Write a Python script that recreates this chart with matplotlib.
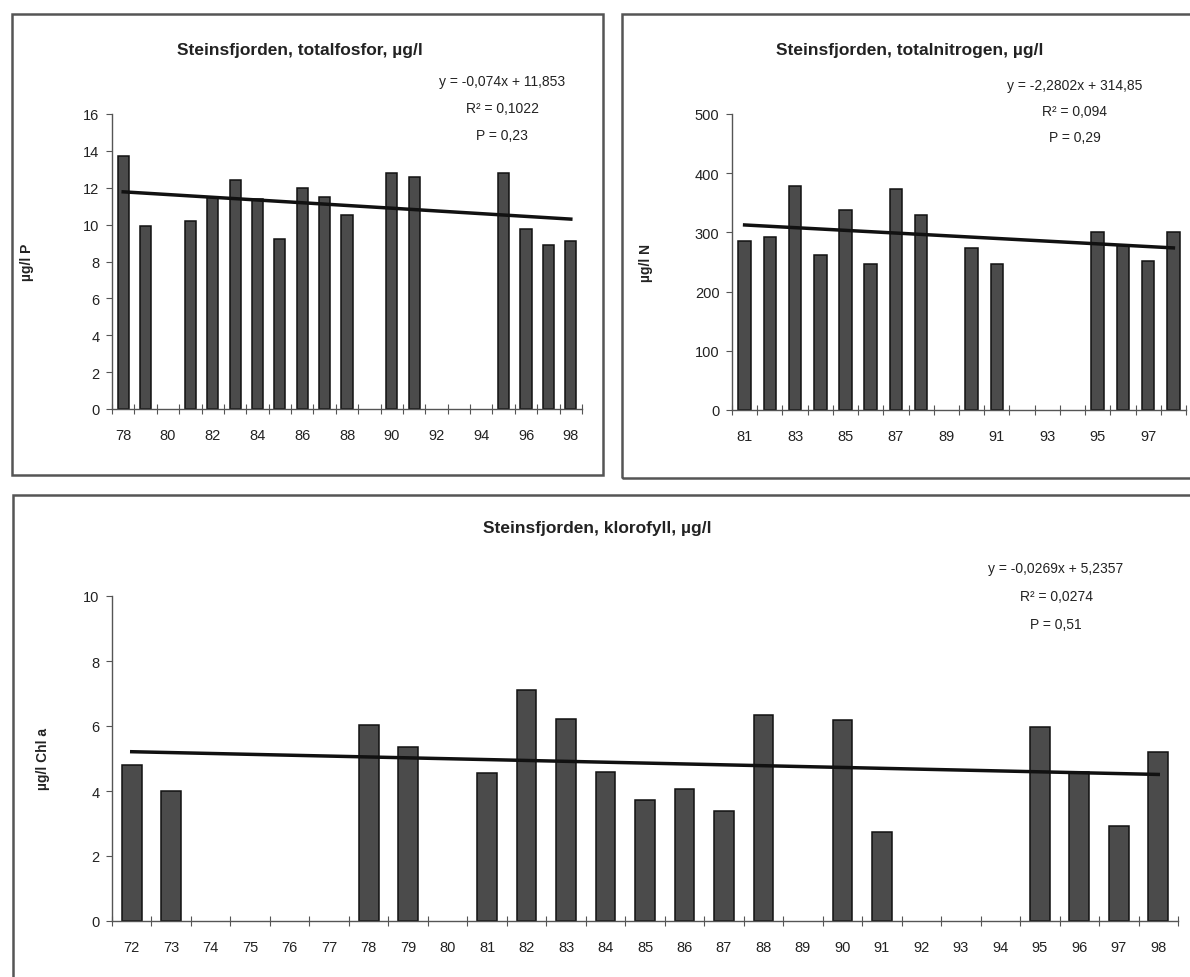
import numpy as np
import matplotlib
matplotlib.use("Agg")
import matplotlib.pyplot as plt
from matplotlib.patches import Rectangle

plt.rcParams['font.family'] = ['Liberation Sans', 'DejaVu Sans']

# --- data ---
p_years = list(range(78, 99))
p_vals = [13.7, 9.9, None, 10.2, 11.5, 12.4, 11.4, 9.2, 12.0, 11.5, 10.5,
          None, 12.8, 12.6, None, None, None, 12.8, 9.75, 8.9, 9.1]
p_trend = (-0.074, 11.853)
p_text = ['y = -0,074x + 11,853', 'R² = 0,1022', 'P = 0,23']

n_years = list(range(81, 99))
n_vals = [285, 292, 378, 261, 338, 247, 374, 329, None, 274, 246,
          None, None, None, 300, 279, 252, 300]
n_trend = (-2.2802, 314.85)
n_text = ['y = -2,2802x + 314,85', 'R² = 0,094', 'P = 0,29']

c_years = list(range(72, 99))
c_vals = [4.81, 3.99, None, None, None, None, 6.02, 5.35, None, 4.55, 7.11,
          6.22, 4.60, 3.73, 4.05, 3.40, 6.34, None, 6.17, 2.74, None, None,
          None, 5.97, 4.58, 2.91, 5.20]
c_trend = (-0.0269, 5.2357)
c_text = ['y = -0,0269x + 5,2357', 'R² = 0,0274', 'P = 0,51']

W, H = 1190, 978
fig = plt.figure(figsize=(W / 100, H / 100), dpi=100)


def px_axes(x0, y0, x1, y1):
    # pixel box (top-left origin) -> figure axes
    return fig.add_axes([x0 / W, 1 - y1 / H, (x1 - x0) / W, (y1 - y0) / H])


def frame(x0, y0, x1, y1):
    fig.patches.append(Rectangle((x0 / W, 1 - y1 / H), (x1 - x0) / W, (y1 - y0) / H,
                                 transform=fig.transFigure, fill=False,
                                 edgecolor='#555555', lw=1.8))


def bar_panel(ax, years, vals, trend, ymax, ystep, label_every, ylabel):
    n = len(years)
    x = np.arange(n)
    xs = [i for i, v in enumerate(vals) if v is not None]
    hs = [v for v in vals if v is not None]
    ax.bar(xs, hs, width=0.5, color='#4b4b4b', edgecolor='#111111', lw=1.1, zorder=2)
    k = np.arange(1, n + 1)
    ax.plot(x, trend[0] * k + trend[1], color='#111111', lw=2.5, zorder=3)
    ax.set_xlim(-0.5, n - 0.5)
    ax.set_ylim(0, ymax)
    ax.set_yticks(np.arange(0, ymax + ystep / 2, ystep))
    ax.set_xticks(x[::label_every])
    ax.set_xticklabels([str(y) for y in years[::label_every]])
    ax.set_xticks(np.arange(-0.5, n), minor=True)
    ax.tick_params(axis='x', which='major', length=0, pad=14, labelsize=10.5,
                   labelcolor='#222222')
    ax.tick_params(axis='x', which='minor', direction='inout', length=7, width=0.8,
                   color='#555555')
    ax.tick_params(axis='y', direction='out', length=4, width=0.8, color='#555555',
                   labelsize=10.5, labelcolor='#222222', pad=5)
    for s in ['top', 'right']:
        ax.spines[s].set_visible(False)
    for s in ['left', 'bottom']:
        ax.spines[s].set_color('#555555')
        ax.spines[s].set_linewidth(1.0)
    ax.set_ylabel(ylabel, fontsize=10, fontweight='bold', color='#222222')


# frames around each chart
frame(12, 15, 603, 476)
frame(622, 15, 1205, 479)
frame(13, 496, 1205, 1000)

ax1 = px_axes(112, 115, 582, 410)
bar_panel(ax1, p_years, p_vals, p_trend, 16, 2, 2, 'µg/l P')
ax1.yaxis.set_label_coords(-0.165, 0.5)

ax2 = px_axes(732, 115, 1186, 411)
bar_panel(ax2, n_years, n_vals, n_trend, 500, 100, 2, 'µg/l N')
ax2.yaxis.set_label_coords(-0.175, 0.5)

ax3 = px_axes(112, 597, 1178, 922)
bar_panel(ax3, c_years, c_vals, c_trend, 10, 2, 1, 'µg/l Chl a')
ax3.yaxis.set_label_coords(-0.058, 0.5)

# titles
fig.text(300 / W, 1 - 50 / H, 'Steinsfjorden, totalfosfor, µg/l', ha='center',
         va='center', fontsize=12.5, fontweight='bold', color='#222222')
fig.text(910 / W, 1 - 50 / H, 'Steinsfjorden, totalnitrogen, µg/l', ha='center',
         va='center', fontsize=12.5, fontweight='bold', color='#222222')
fig.text(597 / W, 1 - 528 / H, 'Steinsfjorden, klorofyll, µg/l', ha='center',
         va='center', fontsize=12.5, fontweight='bold', color='#222222')

# regression annotations
for txt, xc, ys in [(p_text, 502, [82, 109, 136]),
                    (n_text, 1075, [86, 112, 138]),
                    (c_text, 1056, [569, 597, 625])]:
    for t, yy in zip(txt, ys):
        fig.text(xc / W, 1 - yy / H, t, ha='center', va='center', fontsize=10,
                 color='#222222')

fig.savefig('out.png', dpi=100)
